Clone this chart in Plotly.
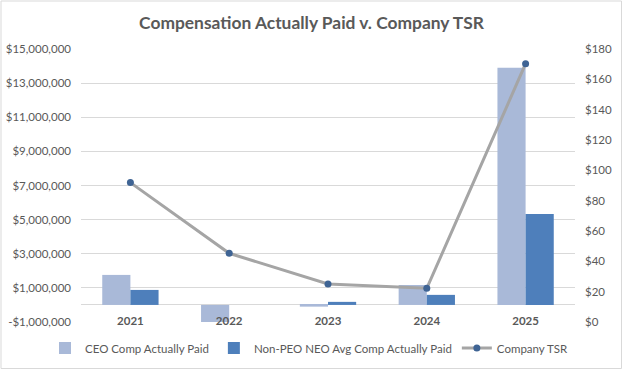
import plotly.graph_objects as go

years = ["2021", "2022", "2023", "2024", "2025"]
ceo_cap = [1760000, -1000000, -100000, 1170000, 13900000]
neo_cap = [880000, 0, 180000, 590000, 5330000]
tsr = [91.9, 45.3, 25.1, 22.2, 170.3]

left_ticks = [-1000000, 1000000, 3000000, 5000000, 7000000, 9000000, 11000000, 13000000, 15000000]
left_labels = ["-$1,000,000" if v < 0 else "${:,}".format(v) for v in left_ticks]
right_ticks = list(range(0, 181, 20))
right_labels = ["${}".format(v) for v in right_ticks]

W, H = 623, 370
L, R, T, B = 81, 48, 49, 48
FONT = "Lato, 'Open Sans', sans-serif"
TXT = "#595959"

fig = go.Figure()
fig.add_trace(go.Bar(x=years, y=ceo_cap, name="CEO Comp Actually Paid",
                     marker=dict(color="#A9B9D8", line=dict(width=0))))
fig.add_trace(go.Bar(x=years, y=neo_cap, name="Non-PEO NEO Avg Comp Actually Paid",
                     marker=dict(color="#4E7FBB", line=dict(width=0))))
fig.add_trace(go.Scatter(x=years, y=tsr, name="Company TSR", yaxis="y2",
                         mode="lines+markers",
                         line=dict(color="#A5A5A5", width=3),
                         marker=dict(color="#3F6494", size=7,
                                     line=dict(color="#3F6494", width=0))))

pw = W - L - R
ph = H - T - B
zero_frac = (0 - left_ticks[0]) / (left_ticks[-1] - left_ticks[0])

fig.update_layout(
    width=W, height=H,
    margin=dict(l=L, r=R, t=T, b=B, autoexpand=False),
    paper_bgcolor="white", plot_bgcolor="white",
    font=dict(family=FONT, size=11.5, color=TXT),
    title=dict(text="<b>Compensation Actually Paid v. Company TSR</b>",
               x=0.5, xanchor="center", y=1 - 23 / H, yanchor="middle",
               font=dict(size=17.4, color=TXT, family=FONT)),
    barmode="group", bargap=0.43, bargroupgap=0,
    xaxis=dict(type="category", showgrid=False, showline=False, ticks="",
               tickmode="array", tickvals=years, ticktext=years,
               anchor="free", position=zero_frac, automargin=False,
               tickfont=dict(size=11.5, color=TXT, family=FONT, weight="bold"),
               ticklabelstandoff=8),
    yaxis=dict(range=[left_ticks[0], left_ticks[-1]], tickvals=left_ticks,
               ticktext=left_labels, showgrid=True, gridcolor="#D9D9D9",
               gridwidth=1, zeroline=True, zerolinecolor="#D9D9D9",
               zerolinewidth=1, showline=False, ticks="", automargin=False,
               ticklabelstandoff=9, tickfont=dict(size=11.5, color=TXT)),
    yaxis2=dict(range=[0, 180], tickvals=right_ticks, ticktext=right_labels,
                overlaying="y", side="right", showgrid=False, zeroline=False,
                showline=False, ticks="", ticklabelstandoff=9, automargin=False,
                tickfont=dict(size=11.5, color=TXT)),
    legend=dict(orientation="h", x=-(81 - 45) / pw, xanchor="left",
                y=-(348 - (H - B)) / ph, yanchor="middle",
                font=dict(size=11.5, color=TXT, family=FONT),
                traceorder="normal"),
    showlegend=True,
)

fig.add_shape(type="rect", xref="paper", yref="paper",
              x0=-(L - 1) / pw, x1=1 + (R - 1.5) / pw,
              y0=-(B - 1.5) / ph, y1=1 + (T - 1) / ph,
              line=dict(color="#D9D9D9", width=1), fillcolor="rgba(0,0,0,0)",
              layer="below")

fig.write_html("out.html", config={"displayModeBar": False},
               post_script="document.body.style.margin='0';document.body.style.padding='0';")
